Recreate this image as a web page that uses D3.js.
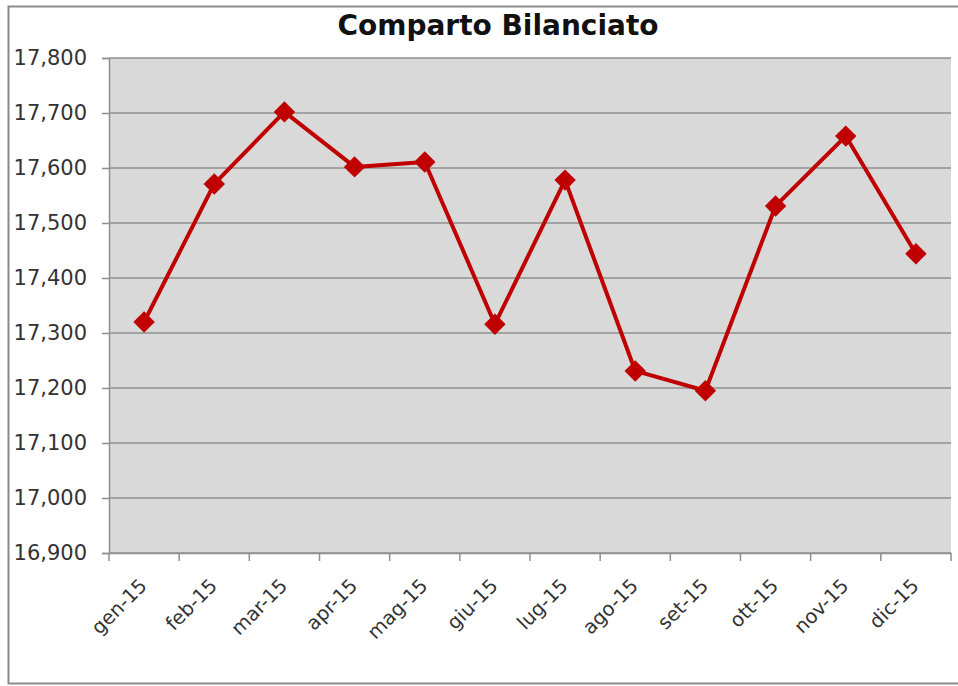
<!DOCTYPE html>
<html><head><meta charset="utf-8">
<script src="https://cdn.jsdelivr.net/npm/d3@7"></script>
<style>html,body{margin:0;padding:0;background:#fff;}svg{display:block;}</style>
</head><body>
<svg id="c" width="958" height="686"></svg>
<script>
const categories = ["gen-15","feb-15","mar-15","apr-15","mag-15","giu-15","lug-15","ago-15","set-15","ott-15","nov-15","dic-15"];
const values = [17320,17571,17702,17602,17611,17316,17578,17231,17195,17531,17658,17444];
const yTicks = [16900,17000,17100,17200,17300,17400,17500,17600,17700,17800];
const title = "Comparto Bilanciato";

const svg = d3.select("#c");
const font = "'DejaVu Sans', Verdana, sans-serif";
const m = {left:109, top:58, right:951, bottom:553};

// outer frame
svg.append("rect").attr("x",8.5).attr("y",6.5).attr("width",960).attr("height",677)
  .attr("fill","#fff").attr("stroke","#8a8a8a").attr("stroke-width",2);

const x = d3.scaleBand().domain(categories).range([m.left,m.right]);
const y = d3.scaleLinear().domain([16900,17800]).range([m.bottom,m.top]);

svg.append("rect").attr("x",m.left).attr("y",m.top).attr("width",m.right-m.left).attr("height",m.bottom-m.top)
  .attr("fill","#d9d9d9");

// gridlines
svg.append("g").selectAll("line").data(yTicks).join("line")
  .attr("x1",m.left).attr("x2",m.right).attr("y1",d=>y(d)).attr("y2",d=>y(d))
  .attr("stroke","#8f8f8f").attr("stroke-width",1.5);

// y axis
const ya = svg.append("g").attr("transform",`translate(${m.left},0)`)
  .call(d3.axisLeft(y).tickValues(yTicks).tickFormat(d3.format(",")).tickSize(7).tickPadding(15));
ya.select(".domain").attr("stroke","#8f8f8f").attr("stroke-width",1.5);
ya.selectAll(".tick line").attr("stroke","#8f8f8f").attr("stroke-width",1.5);
ya.selectAll("text").attr("font-family",font).attr("font-size",21).attr("fill","#333");

// x axis
const xa = svg.append("g").attr("transform",`translate(0,${m.bottom})`)
  .call(d3.axisBottom(x).tickSize(0).tickPadding(0));
xa.select(".domain").attr("stroke","#8f8f8f").attr("stroke-width",1.5);
xa.selectAll(".tick line").remove();
// band edge ticks
const edges = categories.map(c=>x(c)).concat([m.right]);
svg.append("g").selectAll("line").data(edges).join("line")
  .attr("x1",d=>d).attr("x2",d=>d).attr("y1",m.bottom).attr("y2",m.bottom+8)
  .attr("stroke","#8f8f8f").attr("stroke-width",1.5);
xa.selectAll(".tick text")
  .attr("font-family",font).attr("font-size",19.5).attr("fill","#333")
  .attr("text-anchor","end").attr("dy","0")
  .attr("transform","translate(4,34) rotate(-45)");

// line
const cx = d=>x(d)+x.bandwidth()/2;
const pts = categories.map((c,i)=>[cx(c), y(values[i])]);
svg.append("path").datum(pts).attr("d",d3.line())
  .attr("fill","none").attr("stroke","#c00000").attr("stroke-width",4).attr("stroke-linejoin","round");

svg.append("g").selectAll("path").data(pts).join("path")
  .attr("d",d3.symbol(d3.symbolSquare,230)())
  .attr("transform",d=>`translate(${d[0]},${d[1]}) rotate(45)`)
  .attr("fill","#c00000");

// title
svg.append("text").attr("x",498).attr("y",35).attr("text-anchor","middle")
  .attr("font-family",font).attr("font-weight","bold").attr("font-size",28).attr("fill","#111")
  .text(title);
</script>
</body></html>
